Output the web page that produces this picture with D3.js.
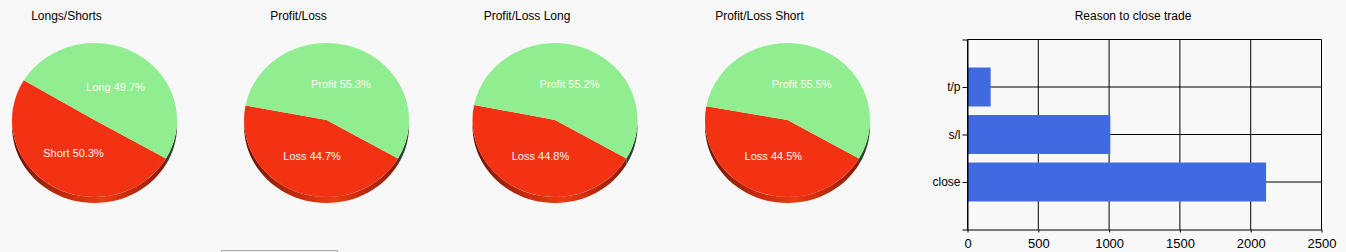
<!DOCTYPE html>
<html>
<head>
<meta charset="utf-8">
<script src="https://cdn.jsdelivr.net/npm/d3@7"></script>
<style>
  html, body { margin: 0; padding: 0; background: #f8f8f8; }
  svg { display: block; font-family: "Liberation Sans", Arial, sans-serif; }
</style>
</head>
<body>
<svg id="chart"></svg>
<script>
// pie data (percent), first slice is the red one
const pieTitles = ['Longs/Shorts', 'Profit/Loss', 'Profit/Loss Long', 'Profit/Loss Short'];
const pieNames = [['Short', 'Long'], ['Loss', 'Profit'], ['Loss', 'Profit'], ['Loss', 'Profit']];
const pieValues = [[50.3, 49.7], [44.7, 55.3], [44.8, 55.2], [44.5, 55.5]];

// bar chart data
const barTitle = 'Reason to close trade';
const reasons = ['t/p', 's/l', 'close'];
const reasonCounts = [160, 1005, 2105];
const xTicks = [0, 500, 1000, 1500, 2000, 2500];

const width = 1346, height = 252;
const svg = d3.select('#chart').attr('width', width).attr('height', height);

const pieCx = [94.5, 326.5, 555, 787.5];
const pieCy = 120;
const rx = 82.5, ry = 77, depth = 6;
const topColors = ['#f23212', '#90ee90'];

// gradients for the pie sides
const defs = svg.append('defs');
const sideStops = [
    [['#6a1404', 0], ['#c02a0c', 0.3], ['#ee3a12', 0.55], ['#a02008', 0.85], ['#6a1404', 1]],
    [['#2a402a', 0], ['#3c5c3c', 0.5], ['#2a402a', 1]]
];
sideStops.forEach((stops, i) => {
    const g = defs.append('linearGradient')
        .attr('id', 'side' + i)
        .attr('gradientUnits', 'userSpaceOnUse')
        .attr('x1', -rx).attr('x2', rx).attr('y1', 0).attr('y2', 0);
    stops.forEach(s => g.append('stop').attr('offset', s[1]).attr('stop-color', s[0]));
});

const pie = d3.pie().sort(null).startAngle(Math.PI * 2 / 3).endAngle(Math.PI * 2 / 3 + Math.PI * 2);
const arc = d3.arc().innerRadius(0).outerRadius(rx);

// visible part of the cylinder side between two d3 angles
function sidePath(a0, a1) {
    const t0 = a0 - Math.PI / 2, t1 = a1 - Math.PI / 2;
    let d = '';
    [-1, 0, 1].forEach(k => {
        const lo = Math.max(t0, 2 * Math.PI * k), hi = Math.min(t1, 2 * Math.PI * k + Math.PI);
        if (hi <= lo) return;
        const n = 40;
        const pts = [];
        for (let j = 0; j <= n; j++) {
            const t = lo + (hi - lo) * j / n;
            pts.push([rx * Math.cos(t), ry * Math.sin(t)]);
        }
        d += 'M' + pts.map(p => p[0] + ',' + p[1]).join('L');
        d += 'L' + pts.slice().reverse().map(p => p[0] + ',' + (p[1] + depth)).join('L') + 'Z';
    });
    return d;
}

pieValues.forEach((vals, i) => {
    svg.append('text')
        .attr('x', pieCx[i] - 28)
        .attr('y', 20)
        .attr('text-anchor', 'middle')
        .attr('font-size', '12px')
        .attr('fill', '#000')
        .text(pieTitles[i]);

    const g = svg.append('g').attr('transform', `translate(${pieCx[i]},${pieCy})`);
    const arcs = pie(vals);

    g.selectAll('.side')
        .data(arcs)
        .enter()
        .append('path')
        .attr('class', 'side')
        .attr('d', d => sidePath(d.startAngle, d.endAngle))
        .attr('fill', (d, j) => `url(#side${j})`);

    g.append('g')
        .attr('transform', `scale(1,${ry / rx})`)
        .selectAll('path')
        .data(arcs)
        .enter()
        .append('path')
        .attr('d', arc)
        .attr('fill', (d, j) => topColors[j]);

    g.selectAll('.lbl')
        .data(arcs)
        .enter()
        .append('text')
        .attr('class', 'lbl')
        .attr('x', d => 0.5 * rx * Math.cos((d.startAngle + d.endAngle) / 2 - Math.PI / 2))
        .attr('y', d => 0.5 * ry * Math.sin((d.startAngle + d.endAngle) / 2 - Math.PI / 2))
        .attr('dy', '0.35em')
        .attr('text-anchor', 'middle')
        .attr('font-size', '11px')
        .attr('fill', '#fffaf5')
        .text((d, j) => `${pieNames[i][j]} ${vals[j].toFixed(1)}%`);
});

// button edge at the bottom
svg.append('rect')
    .attr('x', 221.5).attr('y', 250.5).attr('width', 116).attr('height', 12)
    .attr('fill', '#f4f4f4').attr('stroke', '#a8a8b0');

// bar chart
const plot = { left: 967.5, right: 1321.5, top: 39.5, bottom: 229.5 };
const x = d3.scaleLinear().domain([0, 2500]).range([plot.left, plot.right]);
const y = d3.scalePoint().domain(reasons).range([plot.top, plot.bottom]).padding(1);
const barH = y.step() * 0.82;

svg.append('text')
    .attr('x', 1133)
    .attr('y', 20)
    .attr('text-anchor', 'middle')
    .attr('font-size', '12px')
    .attr('fill', '#000')
    .text(barTitle);

svg.append('g')
    .selectAll('line')
    .data(xTicks)
    .enter()
    .append('line')
    .attr('x1', d => x(d)).attr('x2', d => x(d))
    .attr('y1', plot.top).attr('y2', plot.bottom)
    .attr('stroke', '#000');

svg.append('g')
    .selectAll('line')
    .data(reasons)
    .enter()
    .append('line')
    .attr('x1', plot.left).attr('x2', plot.right)
    .attr('y1', d => y(d)).attr('y2', d => y(d))
    .attr('stroke', '#000');

svg.append('line')
    .attr('x1', plot.left).attr('x2', plot.right)
    .attr('y1', plot.top).attr('y2', plot.top)
    .attr('stroke', '#000');

svg.append('g')
    .selectAll('rect')
    .data(reasons)
    .enter()
    .append('rect')
    .attr('x', plot.left + 0.5)
    .attr('y', d => y(d) - barH / 2)
    .attr('width', (d, i) => x(reasonCounts[i]) - plot.left)
    .attr('height', barH)
    .attr('fill', '#4169e1');

const xAxis = svg.append('g')
    .attr('transform', `translate(0,${plot.bottom})`)
    .call(d3.axisBottom(x).tickValues(xTicks).tickFormat(d3.format('d')).tickSize(3).tickPadding(6).tickSizeOuter(0));
const yAxis = svg.append('g')
    .attr('transform', `translate(${plot.left},0)`)
    .call(d3.axisLeft(y).tickSize(5).tickPadding(2).tickSizeOuter(5));

xAxis.selectAll('text').attr('font-size', '13px').attr('font-family', 'Liberation Sans, Arial, sans-serif').attr('fill', '#000');
yAxis.selectAll('text').attr('font-size', '12px').attr('font-family', 'Liberation Sans, Arial, sans-serif').attr('fill', '#000');
xAxis.selectAll('line, path').attr('stroke', '#000');
yAxis.selectAll('line, path').attr('stroke', '#000');
</script>
</body>
</html>
